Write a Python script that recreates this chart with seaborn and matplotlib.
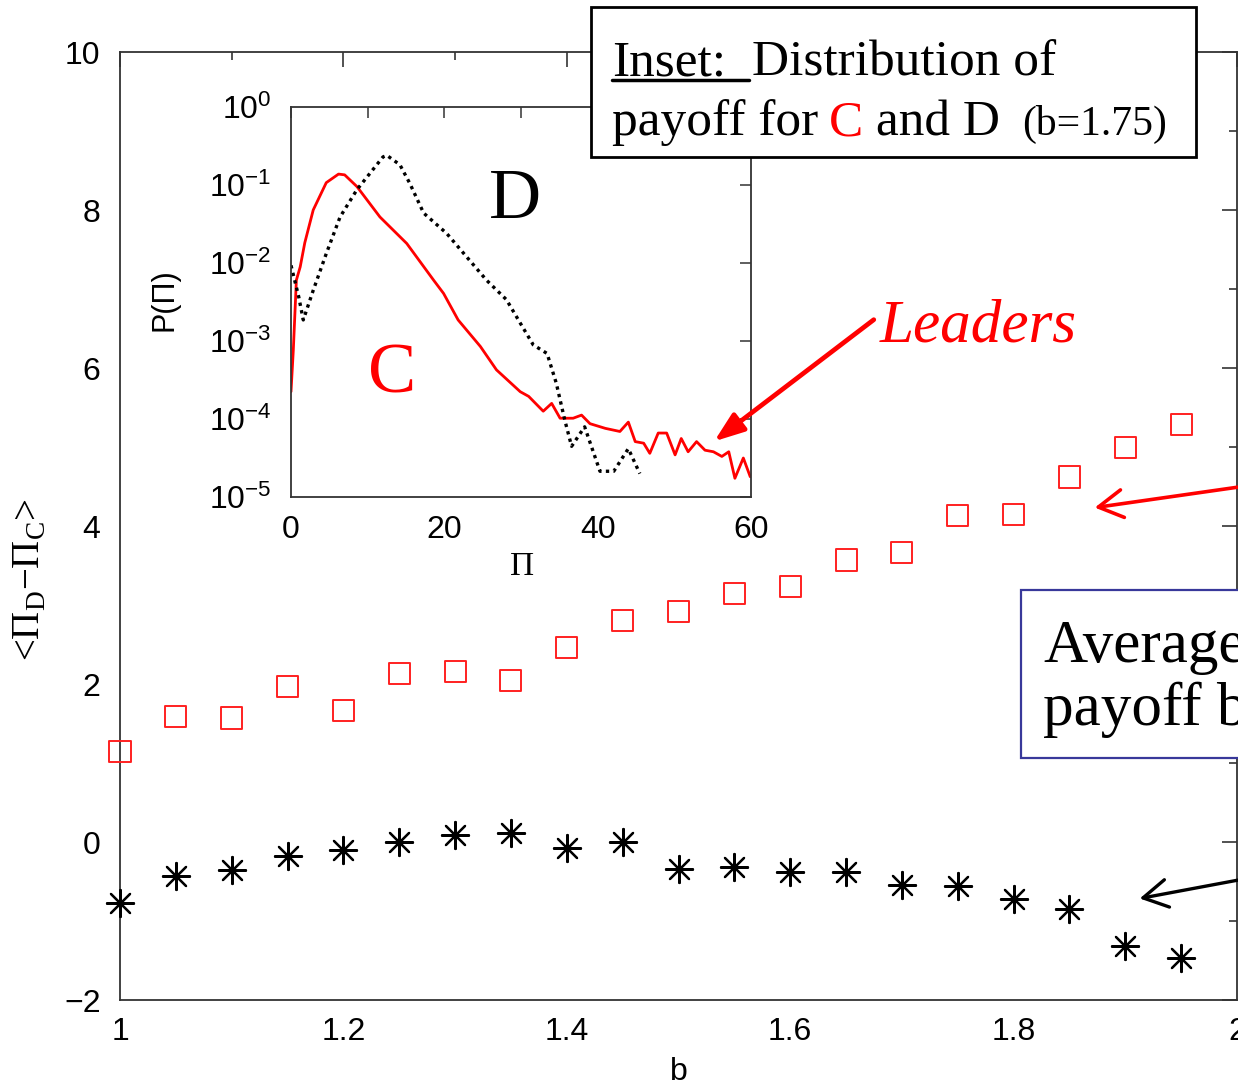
import numpy as np
import pandas as pd
import matplotlib
matplotlib.use("Agg")
import matplotlib.pyplot as plt
import seaborn as sns
from matplotlib.patches import Rectangle, FancyArrowPatch
from matplotlib.lines import Line2D
from matplotlib.ticker import MultipleLocator, NullLocator, FixedLocator

# ---------------- data ----------------
b_values = [1.00, 1.05, 1.10, 1.15, 1.20, 1.25, 1.30, 1.35, 1.40, 1.45,
            1.50, 1.55, 1.60, 1.65, 1.70, 1.75, 1.80, 1.85, 1.90, 1.95]
leaders_diff = [1.15, 1.59, 1.57, 1.97, 1.67, 2.13, 2.16, 2.05, 2.46, 2.80,
                2.92, 3.15, 3.23, 3.57, 3.66, 4.13, 4.15, 4.62, 4.99, 5.29]
average_diff = [-0.77, -0.43, -0.35, -0.18, -0.10, 0.00, 0.09, 0.11, -0.08, 0.00,
                -0.34, -0.32, -0.38, -0.38, -0.54, -0.56, -0.72, -0.85, -1.32, -1.47]

# inset: payoff distribution (log10 P) for C and D at b = 1.75
pi_C = [0.0, 0.3, 0.7, 1.2, 1.8, 2.9, 4.6, 6.2, 7.0, 8.6, 11.6, 15.1, 18.6, 19.9,
        21.8, 24.7, 26.8, 29.9, 31.0, 32.9, 34.0, 35.1, 36.8, 37.9, 39.0, 41.0,
        42.9, 44.0, 44.9, 46.0, 46.8, 47.9, 49.0, 50.1, 50.9, 51.8, 52.9, 54.0,
        55.1, 56.2, 57.1, 57.9, 59.0, 59.9]
logP_C = [-3.65, -3.12, -2.22, -2.05, -1.74, -1.32, -0.97, -0.86, -0.87, -1.02,
          -1.41, -1.75, -2.22, -2.39, -2.73, -3.07, -3.37, -3.65, -3.71, -3.90,
          -3.80, -3.99, -3.99, -3.95, -4.06, -4.12, -4.16, -4.04, -4.29, -4.31,
          -4.44, -4.18, -4.18, -4.46, -4.25, -4.42, -4.29, -4.40, -4.42, -4.48,
          -4.42, -4.76, -4.50, -4.74]
pi_D = [0.0, 0.3, 1.0, 1.6, 2.9, 4.6, 6.4, 8.6, 10.3, 12.0, 12.5, 14.2, 15.5,
        17.3, 20.3, 22.9, 25.5, 28.1, 29.9, 31.6, 33.4, 34.6, 35.7, 36.6, 38.3,
        40.3, 42.1, 44.0, 45.5]
logP_D = [-2.03, -2.15, -2.43, -2.73, -2.35, -1.88, -1.41, -1.06, -0.85, -0.64,
          -0.62, -0.74, -0.98, -1.36, -1.62, -1.92, -2.22, -2.47, -2.77, -3.05,
          -3.16, -3.54, -4.01, -4.35, -4.10, -4.67, -4.67, -4.38, -4.70]

x_ticks = [1.0, 1.2, 1.4, 1.6, 1.8, 2.0]
x_ticklabels = ["1", "1.2", "1.4", "1.6", "1.8", "2"]
y_ticks = [-2, 0, 2, 4, 6, 8, 10]
inset_xticks = [0, 20, 40, 60]

# ---------------- figure ----------------
sns.set_theme(style="white")
plt.rcParams["font.family"] = ["Liberation Sans", "DejaVu Sans"]
plt.rcParams["mathtext.fontset"] = "dejavusans"
for key in ["text.color", "axes.labelcolor", "xtick.color", "ytick.color"]:
    plt.rcParams[key] = "black"

W, H = 1238, 1085
fig = plt.figure(figsize=(W / 100, H / 100), dpi=100)


def fx(x):
    return x / W


def fy(y):
    return 1 - y / H


narrow = ["Liberation Sans Narrow", "Liberation Sans", "DejaVu Sans"]
serif = ["Liberation Serif", "DejaVu Serif"]
spine_c = "#333333"

# main axes
ax = fig.add_axes([fx(120), fy(1000), 1117 / W, 948 / H])
ax.set_facecolor("white")
main_df = pd.DataFrame({"b": b_values, "leaders": leaders_diff, "average": average_diff})
sns.scatterplot(data=main_df, x="b", y="leaders", marker="s", s=230,
                facecolor="none", edgecolor="#ff2020", linewidth=1.4, ax=ax,
                zorder=3, clip_on=False)
sns.scatterplot(data=main_df, x="b", y="average", marker=(8, 2, 0), s=380,
                color="black", edgecolor="black", linewidth=1.6, ax=ax,
                zorder=3, clip_on=False)

ax.set_xlim(1, 2)
ax.set_ylim(-2, 10)
ax.xaxis.set_major_locator(FixedLocator(x_ticks))
ax.set_xticklabels(x_ticklabels)
ax.xaxis.set_minor_locator(MultipleLocator(0.1))
ax.yaxis.set_major_locator(FixedLocator(y_ticks))
ax.yaxis.set_minor_locator(MultipleLocator(1))
ax.tick_params(which="both", direction="in", top=True, right=True,
               width=1.2, color=spine_c)
ax.tick_params(which="major", length=11, labelsize=23)
ax.tick_params(axis="x", which="major", pad=12)
ax.tick_params(axis="y", which="major", pad=14)
ax.tick_params(which="minor", length=6)
for lab in ax.get_xticklabels() + ax.get_yticklabels():
    lab.set_family(narrow)
for sp in ax.spines.values():
    sp.set_color(spine_c)
    sp.set_linewidth(1.3)
ax.set_xlabel("b", fontsize=23, family=narrow)
ax.xaxis.set_label_coords((679 - 120) / 1117, (1000 - 1072) / 948)
ax.xaxis.label.set_va("center")
ax.set_ylabel("<Π$_\\mathregular{D}$−Π$_\\mathregular{C}$>", fontsize=28, family=serif)
ax.yaxis.set_label_coords((30 - 120) / 1117, (1000 - 580) / 948)
ax.yaxis.label.set_va("center")
ax.yaxis.label.set_ha("center")

# inset axes
axin = fig.add_axes([fx(291), fy(497), 460 / W, 390 / H], zorder=5)
axin.set_facecolor("white")
c_df = pd.DataFrame({"pi": pi_C, "P": 10 ** np.array(logP_C)})
d_df = pd.DataFrame({"pi": pi_D, "P": 10 ** np.array(logP_D)})
sns.lineplot(data=c_df, x="pi", y="P", color="red", lw=2.0, ax=axin,
             estimator=None, sort=False)
sns.lineplot(data=d_df, x="pi", y="P", color="black", lw=2.4,
             linestyle=(0, (1, 1.3)), ax=axin, estimator=None, sort=False)
axin.set_yscale("log")
axin.set_ylim(1e-5, 1)
axin.set_xlim(0, 60)
axin.xaxis.set_major_locator(FixedLocator(inset_xticks))
axin.xaxis.set_minor_locator(MultipleLocator(10))
axin.yaxis.set_minor_locator(NullLocator())
axin.tick_params(which="both", direction="in", top=True, right=True,
                 width=1.1, color=spine_c)
axin.tick_params(which="major", length=8, labelsize=23)
axin.tick_params(which="minor", length=8)
axin.tick_params(axis="x", pad=13)
axin.tick_params(axis="y", pad=14)
for sp in axin.spines.values():
    sp.set_color(spine_c)
    sp.set_linewidth(1.3)
axin.set_xlabel("Π", fontsize=24, family=serif)
axin.xaxis.set_label_coords((522 - 291) / 460, (497 - 567) / 390)
axin.xaxis.label.set_va("center")
axin.set_ylabel("P(Π)", fontsize=22)
axin.yaxis.set_label_coords((165 - 291) / 460, (497 - 300) / 390)
axin.yaxis.label.set_va("center")
axin.yaxis.label.set_ha("center")
axin.text((515 - 291) / 460, (497 - 200) / 390, "D", transform=axin.transAxes,
          fontsize=52, family=serif, ha="center", va="center")
axin.text((392 - 291) / 460, (497 - 375) / 390, "C", transform=axin.transAxes,
          fontsize=52, family=serif, color="red", ha="center", va="center")

# ---------------- annotation boxes ----------------
fig.add_artist(Rectangle((fx(591), fy(157)), (1196 - 591) / W, 150 / H,
                         transform=fig.transFigure, fc="white", ec="black",
                         lw=2, zorder=10))
tk = dict(fontsize=37, family=serif, va="baseline", zorder=11)
fig.text(fx(612), fy(75), "Inset:", **tk)
fig.add_artist(Line2D([fx(612), fx(749)], [fy(80), fy(80)], transform=fig.transFigure,
                      color="black", lw=2.5, zorder=11))
fig.text(fx(752), fy(75), "Distribution of", **tk)
fig.text(fx(612), fy(135), "payoff for", **tk)
fig.text(fx(829), fy(135), "C", color="red", **tk)
fig.text(fx(876), fy(135), "and D", **tk)
fig.text(fx(1022), fy(135), "(b=1.75)", fontsize=30, family=serif, va="baseline", zorder=11)

# Leaders label + arrows
fig.text(fx(880), fy(342), "Leaders", fontsize=44, family=serif, style="italic",
         color="red", va="baseline", zorder=12)
fig.add_artist(FancyArrowPatch((fx(876), fy(318)), (fx(712), fy(443)),
                               transform=fig.transFigure,
                               arrowstyle="-|>,head_length=0.6,head_width=0.22",
                               mutation_scale=30, lw=3.4, color="red", zorder=12))
fig.add_artist(FancyArrowPatch((fx(1260), fy(484)), (fx(1092), fy(508)),
                               transform=fig.transFigure,
                               arrowstyle="->,head_length=0.7,head_width=0.4",
                               mutation_scale=25, lw=2.6, color="red", zorder=12))
fig.add_artist(FancyArrowPatch((fx(1260), fy(876)), (fx(1137), fy(899)),
                               transform=fig.transFigure,
                               arrowstyle="->,head_length=0.7,head_width=0.4",
                               mutation_scale=25, lw=2.4, color="black", zorder=12))

# "Average payoff ..." box (cut by the figure edge, as in the reference)
fig.add_artist(Rectangle((fx(1021), fy(758)), 320 / W, 168 / H,
                         transform=fig.transFigure, fc="white", ec="#38389a",
                         lw=1.6, zorder=10))
fig.text(fx(1043), fy(662), "Average", fontsize=44, family=serif, va="baseline", zorder=11)
fig.text(fx(1043), fy(725), "payoff by all", fontsize=44, family=serif, va="baseline", zorder=11)

fig.savefig("out.png", dpi=100)
